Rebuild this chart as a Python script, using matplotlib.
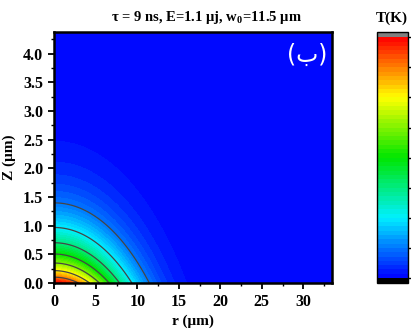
import numpy as np
import matplotlib.pyplot as plt
from matplotlib.colors import LinearSegmentedColormap
from matplotlib.ticker import MultipleLocator

plt.rcParams['mathtext.fontset'] = 'custom'
plt.rcParams['mathtext.rm'] = 'Liberation Serif'
plt.rcParams['mathtext.bf'] = 'Liberation Serif:bold'

# isotherms (fraction of peak T) and where they cut the axes
iso_frac = [7/8, 6/8, 5/8, 4/8, 3/8, 2/8, 1/8]
r_cut = [3.0, 4.18, 5.3, 6.57, 7.85, 9.3, 11.5]      # um, on z = 0
z_cut = [0.11, 0.22, 0.36, 0.50, 0.70, 0.96, 1.40]   # um, on r = 0

cb_nodes = [0.0, 0.25, 0.5, 0.75, 1.0]
cb_colors = ['#0000ff', '#00f0ff', '#00e600', '#ffff00', '#ff0000']
n_bands = 56

title = r'τ = 9 ns, E=1.1 μj, w$_{\mathbf{0}}$=11.5 μm'

# fit a gaussian radial profile and a quadratic-exponential depth profile
L = -np.log(iso_frac)
rc = np.array(r_cut)
zc = np.array(z_cut)
k_r = np.sum(L * rc**2) / np.sum(rc**4)
(alpha, beta), *_ = np.linalg.lstsq(np.column_stack([zc, zc**2]), L, rcond=None)

r = np.linspace(0, 33.5, 500)
z = np.linspace(0, 4.38, 400)
R, Z = np.meshgrid(r, z)
T = np.exp(-k_r * R**2 - alpha * Z - beta * Z**2) * 0.9999

cmap = LinearSegmentedColormap.from_list('rb', list(zip(cb_nodes, cb_colors)))
cmap.set_over('#808080')
cmap.set_under('black')

fig = plt.figure(figsize=(4.11, 3.29), dpi=100)
ax = fig.add_axes([54.3 / 411, 46 / 329, 278 / 411, 251.3 / 329])
cf = ax.contourf(R, Z, T, levels=np.linspace(0, 1, n_bands + 1), cmap=cmap, extend='both')
ax.contour(R, Z, T, levels=sorted(iso_frac), colors='#454545', linewidths=0.9)

ax.set_xlim(0, 33.5)
ax.set_ylim(0, 4.38)
ax.set_xticks(range(0, 31, 5))
ax.set_yticks(np.arange(0, 4.01, 0.5))
ax.yaxis.set_major_formatter(plt.FormatStrFormatter('%.1f'))
ax.xaxis.set_minor_locator(MultipleLocator(2.5))
ax.yaxis.set_minor_locator(MultipleLocator(0.25))
ax.tick_params(which='major', direction='out', length=4, width=1.3, pad=4)
ax.tick_params(which='minor', direction='out', length=2, width=1)
for lab in ax.get_xticklabels() + ax.get_yticklabels():
    lab.set_fontfamily('Liberation Serif')
    lab.set_fontweight('bold')
    lab.set_fontsize(11.5)
for s in ax.spines.values():
    s.set_linewidth(1.8)

font = dict(family='Liberation Serif', weight='bold')
ax.set_xlabel('r (μm)', fontsize=11, labelpad=3.5, **font)
ax.set_ylabel('Z (μm)', fontsize=11, labelpad=5, **font)
fig.text(0.503, 1 - 18 / 329, title, ha='center', va='center', fontsize=10.5, **font)

ax.text(0.982, 0.955, '(ب)', color='white', fontsize=17, ha='right', va='top',
        transform=ax.transAxes, family=['DejaVu Sans', 'Noto Sans'])

cax = fig.add_axes([376.5 / 411, 45.7 / 329, 31.5 / 411, 251.3 / 329])
cb = fig.colorbar(cf, cax=cax, extendrect=True, extendfrac=0.022,
                  ticks=np.linspace(0, 1, 9))
cb.ax.tick_params(labelright=False, length=3, width=1, direction='out')
cb.outline.set_linewidth(1)
fig.text(392 / 411, 1 - 18 / 329, 'T(K)', ha='center', va='center', fontsize=11, **font)

fig.savefig('out.png', dpi=100)
